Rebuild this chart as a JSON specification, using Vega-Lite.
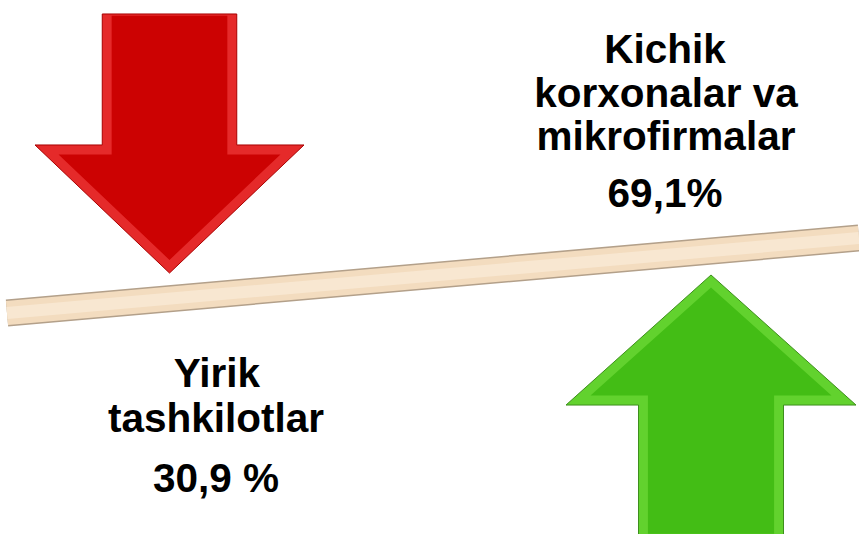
{
  "$schema": "https://vega.github.io/schema/vega-lite/v6.json",
  "width": 859,
  "height": 534,
  "autosize": {"type": "fit", "contains": "padding"},
  "padding": 0,
  "background": "white",
  "config": {"view": {"stroke": null}},
  "datasets": {
    "plank": [{"x": 7, "y": 313, "x2": 859, "y2": 238}],
    "arrows": [
      {"group": "Yirik tashkilotlar", "direction": "down", "x": 169.5, "y": 143.5},
      {"group": "Kichik korxonalar va mikrofirmalar", "direction": "up", "x": 711, "y": 407.5}
    ],
    "labels": [
      {"text": "Yirik", "x": 217, "y": 387},
      {"text": "tashkilotlar", "x": 216, "y": 432},
      {"text": "30,9 %", "x": 216, "y": 492},
      {"text": "Kichik", "x": 665, "y": 63},
      {"text": "korxonalar va", "x": 666, "y": 107},
      {"text": "mikrofirmalar", "x": 666, "y": 150},
      {"text": "69,1%", "x": 665, "y": 207}
    ]
  },
  "encoding": {
    "x": {"field": "x", "type": "quantitative", "scale": {"domain": [0, 859], "nice": false, "zero": false}, "axis": null},
    "y": {"field": "y", "type": "quantitative", "scale": {"domain": [0, 534], "nice": false, "zero": false, "reverse": true}, "axis": null}
  },
  "layer": [
    {
      "data": {"name": "plank"},
      "mark": {"type": "rule", "strokeWidth": 27, "color": "#b3a08a", "strokeCap": "butt", "clip": true},
      "encoding": {"x2": {"field": "x2"}, "y2": {"field": "y2"}}
    },
    {
      "data": {"name": "plank"},
      "mark": {"type": "rule", "strokeWidth": 24, "color": "#f3dcbf", "strokeCap": "butt", "clip": true},
      "encoding": {"x2": {"field": "x2"}, "y2": {"field": "y2"}}
    },
    {
      "data": {"name": "plank"},
      "mark": {"type": "rule", "strokeWidth": 12, "color": "#f8e7d1", "strokeCap": "butt", "clip": true},
      "encoding": {"x2": {"field": "x2"}, "y2": {"field": "y2"}}
    },
    {
      "data": {"name": "arrows"},
      "transform": [{"filter": "datum.direction === 'down'"}],
      "mark": {"type": "point", "shape": "M-0.5,-0.963 L0.5,-0.963 L0.5,0.011 L1,0.011 L0,0.963 L-1,0.011 L-0.5,0.011 Z", "size": 72361, "filled": true, "color": "#e52a2a", "opacity": 1, "stroke": "#a80000", "strokeWidth": 1, "clip": true}
    },
    {
      "data": {"name": "arrows"},
      "transform": [{"filter": "datum.direction === 'down'"}],
      "mark": {"type": "point", "shape": "M-0.43,-0.95 L0.43,-0.95 L0.43,0.081 L0.825,0.081 L0,0.866 L-0.825,0.081 L-0.43,0.081 Z", "size": 72361, "filled": true, "color": "#cc0202", "opacity": 1, "strokeWidth": 0, "clip": true}
    },
    {
      "data": {"name": "arrows"},
      "transform": [{"filter": "datum.direction === 'up'"}],
      "mark": {"type": "point", "shape": "M0,-0.914 L1,-0.017 L0.5,-0.017 L0.5,0.914 L-0.5,0.914 L-0.5,-0.017 L-1,-0.017 Z", "size": 84100, "filled": true, "color": "#62d22e", "opacity": 1, "stroke": "#3d8f1c", "strokeWidth": 1, "clip": true}
    },
    {
      "data": {"name": "arrows"},
      "transform": [{"filter": "datum.direction === 'up'"}],
      "mark": {"type": "point", "shape": "M0,-0.827 L0.831,-0.082 L0.435,-0.082 L0.435,0.87 L-0.435,0.87 L-0.435,-0.082 L-0.831,-0.082 Z", "size": 84100, "filled": true, "color": "#43bd15", "opacity": 1, "strokeWidth": 0, "clip": true}
    },
    {
      "data": {"name": "labels"},
      "mark": {"type": "text", "font": "Liberation Sans", "fontWeight": "bold", "fontSize": 40.5, "align": "center", "baseline": "alphabetic", "color": "#000000"},
      "encoding": {"text": {"field": "text"}}
    }
  ]
}
